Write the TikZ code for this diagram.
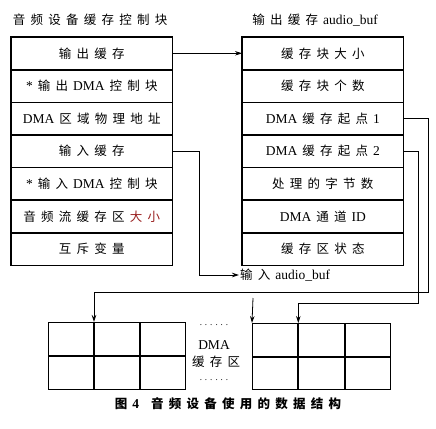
\documentclass[tikz,border=0pt]{standalone}
\usepackage{fontspec}
\setmainfont{Liberation Serif}
\newfontfamily\cjk[LetterSpace=42]{Noto Sans CJK SC}
\newcommand\zh[1]{{\cjk #1}}
\newcommand\gap{\hspace{5pt}}
\usetikzlibrary{arrows.meta}
\definecolor{darkred}{rgb}{0.6,0.12,0.12}
\tikzset{
  row/.style={draw, line width=0.7pt, minimum width=161pt, minimum height=31.9pt, inner sep=0pt, anchor=north west, font=\fontsize{12.5}{14}\selectfont},
  cell/.style={draw, line width=1pt, minimum width=45pt, minimum height=33pt, inner sep=0pt, anchor=north west},
  rcell/.style={cell, minimum width=45.3pt, minimum height=32.5pt},
  conn/.style={line width=0.8pt},
  tip/.style={-{Stealth[length=7pt,width=4.5pt]}},
  lbl/.style={inner sep=1pt, font=\fontsize{12.5}{14}\selectfont},
  outer/.style={line width=1.2pt}
}
\newcommand\lat[1]{{\fontsize{13.5}{14}\selectfont #1}}
\begin{document}
\begin{tikzpicture}[x=1pt,y=-1pt]
\useasboundingbox (0,0) rectangle (436,428);
% titles
\node[lbl] (t1) at (90,20) {\zh{音频设备缓存控制块}};
\node[lbl] (t2) at (315,20) {\zh{输出缓存}\gap\lat{audio\_buf}};
% left table
\node[row] (L1) at (11,37) {\zh{输出缓存}};
\node[row] (L2) at (L1.south west) {\lat{*}\gap\zh{输出}\gap\lat{DMA}\gap\zh{控制块}};
\node[row] (L3) at (L2.south west) {\lat{DMA}\gap\zh{区域物理地址}};
\node[row] (L4) at (L3.south west) {\zh{输入缓存}};
\node[row] (L5) at (L4.south west) {\lat{*}\gap\zh{输入}\gap\lat{DMA}\gap\zh{控制块}};
\node[row] (L6) at (L5.south west) {\zh{音频流缓存区}\hspace{5.25pt}\textcolor{darkred}{\zh{大小}}};
\node[row] (L7) at (L6.south west) {\zh{互斥变量}};
\draw[outer] (L1.north west) rectangle (L7.south east);
% right table
\node[row] (R1) at (242,37) {\zh{缓存块大小}};
\node[row] (R2) at (R1.south west) {\zh{缓存块个数}};
\node[row] (R3) at (R2.south west) {\lat{DMA}\gap\zh{缓存起点}\gap\lat{1}};
\node[row] (R4) at (R3.south west) {\lat{DMA}\gap\zh{缓存起点}\gap\lat{2}};
\node[row] (R5) at (R4.south west) {\zh{处理的字节数}};
\node[row] (R6) at (R5.south west) {\lat{DMA}\gap\zh{通道}\gap\lat{ID}};
\node[row] (R7) at (R6.south west) {\zh{缓存区状态}};
\draw[outer] (R1.north west) rectangle (R7.south east);
% input buffer label
\node[lbl, anchor=west] (inb) at (239,275) {\zh{输入}\gap\lat{audio\_buf}};
% left grid
\node[cell] (A1) at (48,322) {};
\node[cell] (A2) at (A1.north east) {};
\node[cell] (A3) at (A2.north east) {};
\node[cell] (A4) at (A1.south west) {};
\node[cell] (A5) at (A4.north east) {};
\node[cell] (A6) at (A5.north east) {};
% right grid
\node[rcell] (B1) at (252,323) {};
\node[rcell] (B2) at (B1.north east) {};
\node[rcell] (B3) at (B2.north east) {};
\node[rcell] (B4) at (B1.south west) {};
\node[rcell] (B5) at (B4.north east) {};
\node[rcell] (B6) at (B5.north east) {};
% middle label
\node[font=\fontsize{9}{9}\selectfont, inner sep=0pt] (d1) at (214,325) {. . . . . .};
\node[lbl] (m1) at (214,345) {\lat{DMA}};
\node[lbl] (m2) at (216,362) {\zh{缓存区}};
\node[font=\fontsize{9}{9}\selectfont, inner sep=0pt] (d2) at (214,380) {. . . . . .};
% connectors
\draw[conn,tip] (L1.east) -- (R1.west);
\coordinate (j1) at (199,275);
\draw[conn,tip] (L4.east) -| (j1) -- (inb.west);
\coordinate (j2) at (428,292);
\draw[conn,tip] (R3.east) -| (j2) -| (A1.north east);
\coordinate (j3) at (418,303);
\draw[conn,tip] (R4.east) -| (j3) -| (B1.north east);
\coordinate (f) at (253,298);
\draw[conn,tip] (f) -- (B1.north west);
% caption
\node[lbl] (cap) at (228,404) {\bfseries\zh{图}\gap\lat{4}\hspace{12pt}\zh{音频设备使用的数据结构}};
\end{tikzpicture}
\end{document}
